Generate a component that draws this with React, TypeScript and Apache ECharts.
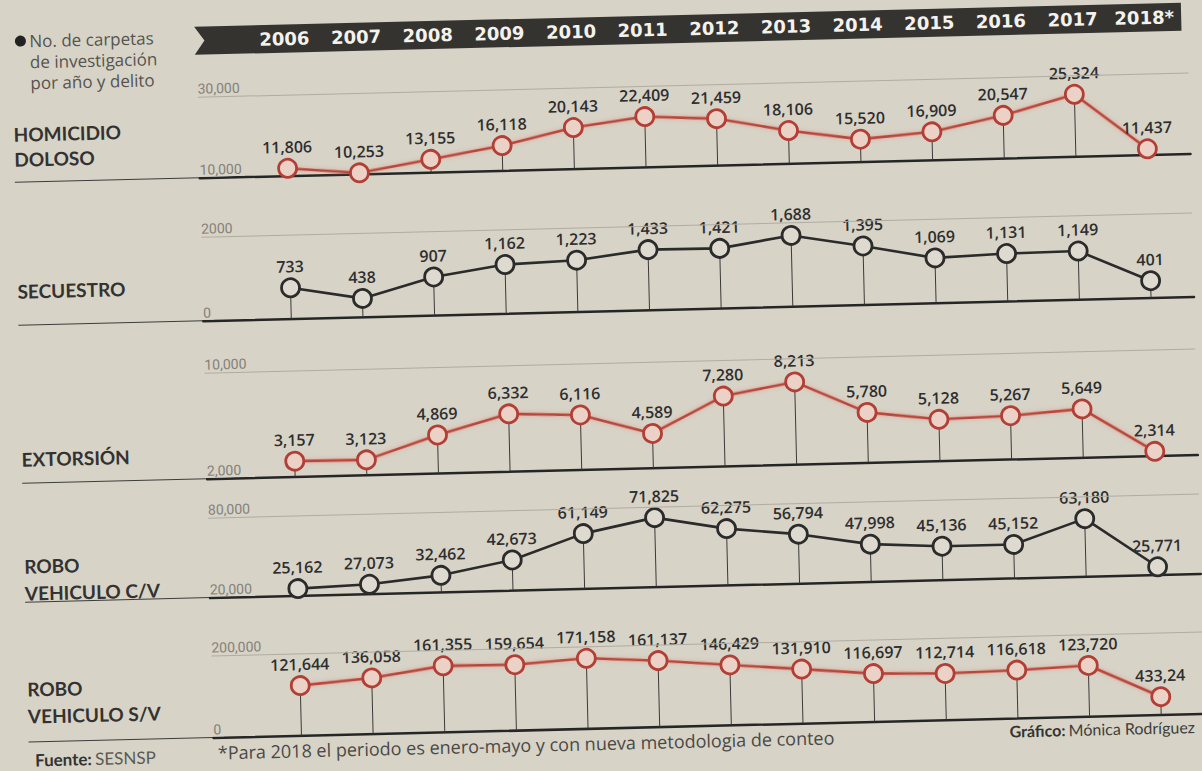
import React, { useEffect, useRef } from "react";
import * as echarts from "echarts";

// ---------- DATA ----------
const years = ["2006", "2007", "2008", "2009", "2010", "2011", "2012", "2013", "2014", "2015", "2016", "2017", "2018*"];
const homicidio = [11806, 10253, 13155, 16118, 20143, 22409, 21459, 18106, 15520, 16909, 20547, 25324, 11437];
const secuestro = [733, 438, 907, 1162, 1223, 1433, 1421, 1688, 1395, 1069, 1131, 1149, 401];
const extorsion = [3157, 3123, 4869, 6332, 6116, 4589, 7280, 8213, 5780, 5128, 5267, 5649, 2314];
const roboCV = [25162, 27073, 32462, 42673, 61149, 71825, 62275, 56794, 47998, 45136, 45152, 63180, 25771];
const roboSV = [121644, 136058, 161355, 159654, 171158, 161137, 146429, 131910, 116697, 112714, 116618, 123720, 43324];
// label as printed in the source (typo kept)
const roboSVLabelOverrides: Record<number, string> = { 12: "433,24" };

const homicidioRange = [10000, 30000];
const secuestroRange = [0, 2000];
const extorsionRange = [2000, 10000];
const roboCVRange = [20000, 80000];
const roboSVRange = [0, 200000];

const homicidioTicks = ["10,000", "30,000"];
const secuestroTicks = ["0", "2000"];
const extorsionTicks = ["2,000", "10,000"];
const roboCVTicks = ["20,000", "80,000"];
const roboSVTicks = ["0", "200,000"];

const homicidioName = ["HOMICIDIO", "DOLOSO"];
const secuestroName = ["SECUESTRO"];
const extorsionName = ["EXTORSIÓN"];
const roboCVName = ["ROBO", "VEHICULO C/V"];
const roboSVName = ["ROBO", "VEHICULO S/V"];

const legendLines = ["No. de carpetas", "de investigación", "por año y delito"];
const footnote = "*Para 2018 el periodo es enero-mayo y con nueva metodologia de conteo";

// ---------- STYLE / LAYOUT ----------
const PAPER = "#d7d3c7";
const RED = { line: "#b8463b", fill: "#ecd2c6", border: "#b23e35" };
const BLACK = { line: "#2b2b2b", fill: "#dedacf", border: "#2b2b2b" };

const GRID_LEFT = 205;
const GRID_RIGHT = 6;
const XMIN = -1.228;
const XMAX = 12.6;

type Panel = {
  values: number[];
  range: number[];
  ticks: string[];
  name: string[];
  color: typeof RED;
  top: number;
  base: number;
  nameY: number[];
  overrides?: Record<number, string>;
};

const panels: Panel[] = [
  { values: homicidio, range: homicidioRange, ticks: homicidioTicks, name: homicidioName, color: RED, top: 87, base: 168, nameY: [120, 145] },
  { values: secuestro, range: secuestroRange, ticks: secuestroTicks, name: secuestroName, color: BLACK, top: 227, base: 311, nameY: [277] },
  { values: extorsion, range: extorsionRange, ticks: extorsionTicks, name: extorsionName, color: RED, top: 363, base: 469, nameY: [445] },
  { values: roboCV, range: roboCVRange, ticks: roboCVTicks, name: roboCVName, color: BLACK, top: 508, base: 588, nameY: [552, 579] },
  { values: roboSV, range: roboSVRange, ticks: roboSVTicks, name: roboSVName, color: RED, top: 646, base: 728, nameY: [675, 702], overrides: roboSVLabelOverrides },
];

const fmt = (v: number) => v.toLocaleString("en-US");

function buildOption() {
  const grids: any[] = [];
  const xAxes: any[] = [];
  const yAxes: any[] = [];
  const series: any[] = [];
  const graphics: any[] = [];

  panels.forEach((p, k) => {
    grids.push({ left: GRID_LEFT, right: GRID_RIGHT, top: p.top, height: p.base - p.top });
    xAxes.push({
      gridIndex: k,
      type: "value",
      min: XMIN,
      max: XMAX,
      axisLine: { show: true, onZero: false, lineStyle: { color: "#262626", width: 2.5 } },
      axisTick: { show: false },
      axisLabel: { show: false },
      splitLine: { show: false },
    });
    yAxes.push({
      gridIndex: k,
      type: "value",
      min: p.range[0],
      max: p.range[1],
      axisLine: { show: false },
      axisTick: { show: false },
      axisLabel: { show: false },
      splitLine: { show: false },
    });
    const data = p.values.map((v, i) => [i, v]);
    const yMin = p.range[0];
    series.push({
      type: "custom",
      xAxisIndex: k,
      yAxisIndex: k,
      z: 1,
      silent: true,
      data,
      renderItem: (_params: any, api: any) => {
        const i = api.value(0);
        const v = api.value(1);
        const a = api.coord([i, v]);
        const b = api.coord([i, yMin]);
        return {
          type: "line",
          shape: { x1: a[0], y1: a[1], x2: b[0], y2: b[1] },
          style: { stroke: "#3a3a3a", lineWidth: 1 },
        };
      },
    });
    series.push({
      type: "line",
      xAxisIndex: k,
      yAxisIndex: k,
      z: 3,
      data,
      symbol: "circle",
      symbolSize: 18,
      lineStyle: {
        color: p.color.line,
        width: 2.6,
        shadowColor: p.color === RED ? "rgba(230,120,105,0.55)" : "rgba(0,0,0,0)",
        shadowBlur: p.color === RED ? 4 : 0,
      },
      itemStyle: { color: p.color.fill, borderColor: p.color.border, borderWidth: 2.8 },
      label: {
        show: true,
        position: "top",
        distance: 3,
        color: "#2e2e2e",
        fontSize: 16,
        fontFamily: "'Open Sans'",
        fontWeight: 600,
        formatter: (prm: any) => (p.overrides && p.overrides[prm.dataIndex]) || fmt(prm.value[1]),
      },
      markLine: {
        silent: true,
        symbol: ["none", "none"],
        animation: false,
        label: {
          position: "insideStartTop",
          distance: [0, 1],
          color: "#85827a",
          fontSize: 14,
          fontFamily: "Roboto",
          backgroundColor: PAPER,
          padding: [0, 3, 0, 0],
        },
        data: [
          { yAxis: p.range[1], label: { formatter: p.ticks[1] }, lineStyle: { color: "#b0aca2", width: 1, type: "solid" } },
          { yAxis: p.range[0], label: { formatter: p.ticks[0] }, lineStyle: { color: "rgba(0,0,0,0)", width: 0 } },
        ],
      },
    });

    // separator line in label column (continuation of baseline)
    graphics.push({
      type: "line",
      shape: { x1: 20, y1: p.base, x2: GRID_LEFT, y2: p.base },
      style: { stroke: "#3c3c3c", lineWidth: 1 },
      silent: true,
    });
    p.name.forEach((t, j) => {
      graphics.push({
        type: "text",
        x: 20,
        y: p.nameY[j],
        style: {
          text: t,
          fill: "#333231",
          font: "bold 19px Lato",
          verticalAlign: "middle",
        },
      });
    });
  });

  // header grid with years
  const hk = panels.length;
  grids.push({ left: 293, right: 49, top: 44, height: 1 });
  xAxes.push({
    gridIndex: hk,
    type: "category",
    position: "top",
    boundaryGap: false,
    data: years,
    axisLine: { show: false },
    axisTick: { show: false },
    splitLine: { show: false },
    axisLabel: {
      interval: 0,
      margin: 13,
      verticalAlign: "middle",
      color: "#f4f2ec",
      fontSize: 18,
      fontWeight: "bold",
      fontFamily: "DejaVu Sans",
    },
  });
  yAxes.push({ gridIndex: hk, type: "value", show: false });
  series.push({ type: "line", xAxisIndex: hk, yAxisIndex: hk, data: [], silent: true });

  graphics.unshift({
    type: "polygon",
    z: -1,
    shape: { points: [[203, 17], [1190, 17], [1190, 45], [203, 45], [213, 31]] },
    style: { fill: "#343330" },
  });

  // legend note
  graphics.push({ type: "circle", shape: { cx: 29, cy: 27, r: 5.5 }, style: { fill: "#222" } });
  legendLines.forEach((t, j) => {
    graphics.push({
      type: "text",
      x: 38,
      y: 27 + j * 21,
      style: { text: t, fill: "#55544f", font: "17px 'Open Sans'", verticalAlign: "middle" },
    });
  });

  // footer
  graphics.push({
    type: "text",
    x: 26,
    y: 746,
    style: {
      text: "{b|Fuente:} {r|SESNSP}",
      verticalAlign: "middle",
      rich: {
        b: { font: "bold 17px Lato", fill: "#333" },
        r: { font: "17px Lato", fill: "#5a5954" },
      },
    },
  });
  graphics.push({
    type: "text",
    x: 209,
    y: 743,
    style: { text: footnote, fill: "#4a4945", font: "18px 'Open Sans'", verticalAlign: "middle" },
  });
  graphics.push({
    type: "text",
    x: 1001,
    y: 741,
    style: {
      text: "{b|Gráfico:} {r|Mónica Rodríguez}",
      verticalAlign: "middle",
      rich: {
        b: { font: "bold 16px Lato", fill: "#333" },
        r: { font: "16px Lato", fill: "#3e3d3a" },
      },
    },
  });

  return {
    animation: false,
    backgroundColor: PAPER,
    grid: grids,
    xAxis: xAxes,
    yAxis: yAxes,
    series,
    graphic: graphics,
  };
}

export default function App() {
  const ref = useRef<HTMLDivElement | null>(null);
  useEffect(() => {
    if (!ref.current) return;
    const chart = echarts.init(ref.current, undefined, { renderer: "svg" });
    chart.setOption(buildOption() as any);
    return () => chart.dispose();
  }, []);
  return (
    <div style={{ position: "fixed", left: 0, top: 0, right: 0, bottom: 0, background: PAPER, overflow: "hidden" }}>
      <div
        ref={ref}
        style={{
          position: "absolute",
          left: 0,
          top: 0,
          width: 1202,
          height: 771,
          transform: "rotate(-1.4deg)",
          transformOrigin: "50% 50%",
        }}
      />
    </div>
  );
}
